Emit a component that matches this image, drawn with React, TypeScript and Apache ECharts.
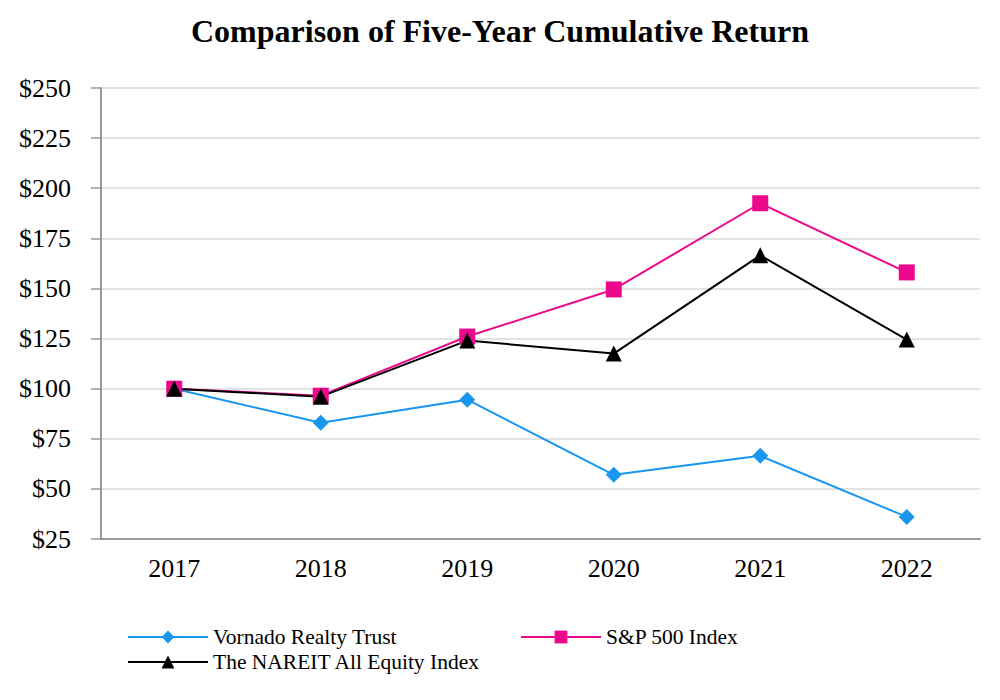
import React, { useEffect, useRef } from "react";
import * as echarts from "echarts";

const years = ["2017", "2018", "2019", "2020", "2021", "2022"];
const vornado = [100, 83, 94.5, 57, 66.5, 36];
const sp500 = [100, 96.5, 126, 149.5, 192.5, 158];
const nareit = [100, 96, 124, 117.5, 166.5, 124.5];

const FONT = "'Liberation Serif', 'Times New Roman', serif";

export default function App() {
  const ref = useRef<HTMLDivElement>(null);
  useEffect(() => {
    if (!ref.current) return;
    const chart = echarts.init(ref.current, null, { renderer: "svg" });
    const legendText = { fontFamily: FONT, fontSize: 21.5, color: "#000" };
    chart.setOption({
      animation: false,
      backgroundColor: "#fff",
      title: {
        text: "Comparison of Five-Year Cumulative Return",
        left: "center",
        top: 10,
        textStyle: { fontFamily: FONT, fontSize: 32, fontWeight: "bold", color: "#000" },
      },
      grid: { left: 101, right: 20, top: 88, bottom: 161 },
      legend: [
        { left: 122, top: 621, itemWidth: 80, itemHeight: 16, itemGap: 10, textStyle: legendText, data: ["Vornado Realty Trust"] },
        { left: 515, top: 621, itemWidth: 80, itemHeight: 16, itemGap: 10, textStyle: legendText, data: ["S&P 500 Index"] },
        { left: 122, top: 646, itemWidth: 80, itemHeight: 16, itemGap: 10, textStyle: legendText, data: ["The NAREIT All Equity Index"] },
      ],
      xAxis: {
        type: "category",
        data: years,
        boundaryGap: true,
        axisLine: { lineStyle: { color: "#999", width: 2 } },
        axisTick: { alignWithLabel: true, length: 10, lineStyle: { color: "#999", width: 1.5 } },
        axisLabel: { fontFamily: FONT, fontSize: 26, color: "#000", margin: 16 },
      },
      yAxis: {
        type: "value",
        min: 25,
        max: 250,
        interval: 25,
        axisLine: { show: true, lineStyle: { color: "#999", width: 2 } },
        axisTick: { show: true, length: 10, lineStyle: { color: "#999", width: 1.5 } },
        axisLabel: { fontFamily: FONT, fontSize: 26, color: "#000", margin: 30, formatter: "${value}" },
        splitLine: { lineStyle: { color: "#e3e3e3", width: 2 } },
      },
      series: [
        {
          name: "Vornado Realty Trust",
          type: "line",
          data: vornado,
          symbol: "diamond",
          symbolSize: 16,
          lineStyle: { color: "#1a96ee", width: 2 },
          itemStyle: { color: "#1a96ee" },
        },
        {
          name: "S&P 500 Index",
          type: "line",
          data: sp500,
          symbol: "rect",
          symbolSize: 16,
          lineStyle: { color: "#ec088c", width: 2 },
          itemStyle: { color: "#ec088c" },
        },
        {
          name: "The NAREIT All Equity Index",
          type: "line",
          data: nareit,
          symbol: "triangle",
          symbolSize: 16,
          lineStyle: { color: "#000", width: 2 },
          itemStyle: { color: "#000" },
        },
      ],
    });
    return () => chart.dispose();
  }, []);
  return <div ref={ref} style={{ width: 1000, height: 700, margin: -8 }} />;
}
